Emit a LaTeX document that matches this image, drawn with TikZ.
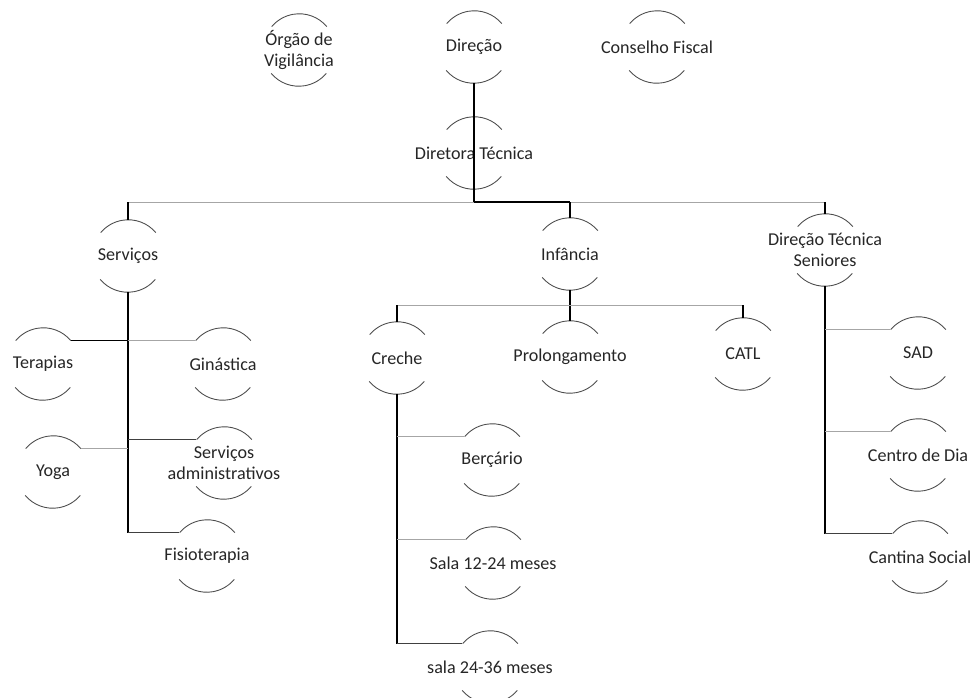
\documentclass[tikz,border=0pt]{standalone}
\usepackage{fontspec}
\setmainfont{Carlito}
\tikzset{
  unit/.style={circle, minimum size=1.44cm, inner sep=0pt},
  unittext/.style={align=center, inner sep=0pt, text=black!85,
    font=\fontsize{10.3}{12}\selectfont},
  ring/.style={black!70, line width=0.5pt},
  trunk/.style={black, line width=0.8pt},
  branch/.style={black!75, line width=0.5pt},
  faint/.style={black!35, line width=0.5pt}
}
\begin{document}
\begin{tikzpicture}[x=0.02cm, y=-0.02cm]
  \useasboundingbox (0,0) rectangle (973,697);
  %\draw[lightgray] (0,0) grid[step=50] (973,697);
  \foreach \n/\pos/\txt in {
      orgao/{299,50}/{Órgão de\\Vigilância},
      direcao/{474,47}/{Direção},
      conselho/{657,47}/{Conselho Fiscal},
      diretora/{474,153}/{Diretora Técnica},
      servicos/{128,256}/{Serviços},
      infancia/{570,254}/{Infância},
      seniores/{825,250}/{Direção Técnica\\Seniores},
      terapias/{43,364}/{Terapias},
      ginastica/{223,364}/{Ginástica},
      yoga/{53,472}/{Yoga},
      admin/{224,463}/{Serviços\\administrativos},
      fisio/{207,556}/{Fisioterapia},
      creche/{397,358}/{Creche},
      prolong/{570,357}/{Prolongamento},
      catl/{743,354}/{CATL},
      bercario/{492,460}/{Berçário},
      sala12/{493,563}/{Sala 12-24 meses},
      sala24/{490,667}/{sala 24-36 meses},
      sad/{918,353}/{SAD},
      centro/{918,455}/{Centro de Dia},
      cantina/{920,557}/{Cantina Social}} {
    \node[unit] (\n) at (\pos) {};
    \node[unittext] (\n-txt) at (\n) {\txt};
    \draw[ring] (\n.40) arc[start angle=40, end angle=140, radius=0.72cm];
    \draw[ring] (\n.220) arc[start angle=220, end angle=320, radius=0.72cm];
  }
  % top level
  \coordinate (hub) at (474, 202);
  \draw[trunk] (direcao.south) -- (hub);
  \draw[faint] (servicos.north |- hub) -- (hub);
  \draw[trunk] (hub) -- (infancia.north |- hub);
  \draw[faint] (infancia.north |- hub) -- (seniores.north |- hub);
  \draw[trunk] (servicos.north |- hub) -- (servicos.north);
  \draw[trunk] (infancia.north |- hub) -- (infancia.north);
  \draw[trunk] (seniores.north |- hub) -- (seniores.north);
  % servicos
  \draw[trunk] (servicos.south) -- (servicos.south |- fisio.140);
  \draw[trunk] (servicos.south |- terapias.40) -- (terapias.40);
  \draw[faint] (servicos.south |- ginastica.140) -- (ginastica.140);
  \draw[faint] (servicos.south |- yoga.40) -- (yoga.40);
  \draw[branch] (servicos.south |- admin.140) -- (admin.140);
  \draw[branch] (servicos.south |- fisio.140) -- (fisio.140);
  % infancia
  \coordinate (hub2) at (570, 305);
  \draw[trunk] (infancia.south) -- (prolong.north);
  \draw[faint] (creche.north |- hub2) -- (catl.north |- hub2);
  \draw[trunk] (creche.north |- hub2) -- (creche.north);
  \draw[trunk] (catl.north |- hub2) -- (catl.north);
  \draw[trunk] (creche.south) -- (creche.south |- sala24.140);
  \draw[faint] (creche.south |- bercario.140) -- (bercario.140);
  \draw[faint] (creche.south |- sala12.140) -- (sala12.140);
  \draw[branch] (creche.south |- sala24.140) -- (sala24.140);
  % seniores
  \draw[trunk] (seniores.south) -- (seniores.south |- cantina.140);
  \draw[faint] (seniores.south |- sad.140) -- (sad.140);
  \draw[faint] (seniores.south |- centro.140) -- (centro.140);
  \draw[branch] (seniores.south |- cantina.140) -- (cantina.140);
\end{tikzpicture}
\end{document}
